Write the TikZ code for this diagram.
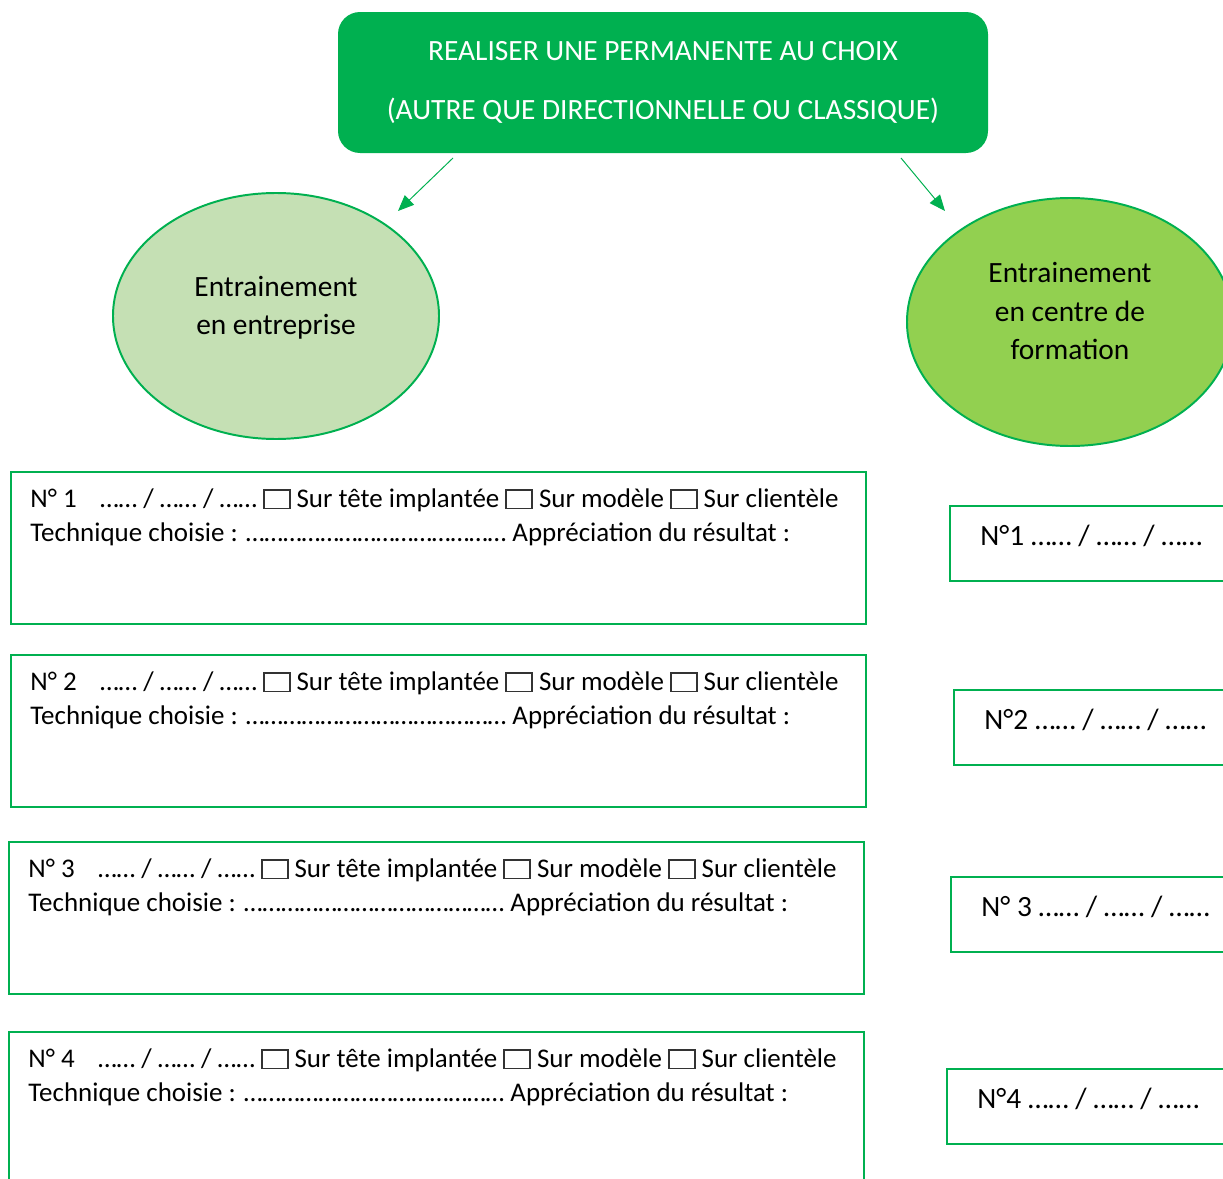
\documentclass[tikz,border=0pt]{standalone}
\usepackage{fontspec}
\setmainfont{Carlito}
\usetikzlibrary{shapes.geometric,arrows.meta,positioning,calc}
\definecolor{vertoffice}{HTML}{00B050}
\definecolor{vertpale}{HTML}{C5E0B4}
\definecolor{vertclair}{HTML}{92D050}
\newcommand{\caseacocher}{{\setlength{\fboxsep}{0pt}\setlength{\fboxrule}{0.6pt}\color{black!80}\fbox{\rule{0pt}{6.8pt}\hspace{10pt}}}}

\begin{document}
\begin{tikzpicture}[
x=0.408pt,y=-0.408pt,
titre/.style={
  fill=vertoffice,
  rounded corners=9pt,
  text=white,
  align=center,
  minimum width=650*0.408pt,
  minimum height=141*0.408pt,
  font=\fontsize{12}{14.6}\selectfont
},
bulle/.style={
  ellipse,
  draw=vertoffice,
  line width=0.8pt,
  inner sep=0pt,
  minimum width=326*0.408pt,
  minimum height=246*0.408pt
},
texte/.style={
  align=center,
  inner sep=0pt,
  font=\fontsize{12}{15.7}\selectfont
},
seance/.style={
  draw=vertoffice,
  line width=0.8pt,
  minimum width=855*0.408pt,
  minimum height=152*0.408pt
},
resultat/.style={
  draw=vertoffice,
  line width=0.8pt,
  minimum width=300*0.408pt,
  minimum height=75*0.408pt
},
ligne/.style={
  inner sep=0pt,
  font=\fontsize{11}{13.4}\selectfont
},
fleche/.style={
  draw=vertoffice,
  line width=0.4pt,
  -{Triangle[length=6.5pt,width=5.4pt]}
}
]
\path[use as bounding box,clip] (0,0) rectangle (1223,1179);

% titre
\node[titre] (titre) at (663,82.5)
  {REALISER UNE PERMANENTE AU CHOIX\\[9.4pt](AUTRE QUE DIRECTIONNELLE OU CLASSIQUE)};

% les deux lieux
\node[bulle,fill=vertpale] (entreprise) at (276,316) {};
\node[texte] (entreprise-txt) at ($(entreprise.center)+(0,-8)$)
  {Entrainement\\en entreprise};
\node[bulle,fill=vertclair,minimum height=248*0.408pt] (centre) at (1070,322) {};
\node[texte] (centre-txt) at ($(centre.center)+(0,-11)$)
  {Entrainement\\en centre de\\formation};

\coordinate (depart-g) at (453,158);
\coordinate (arrivee-g) at (398,211);
\coordinate (depart-d) at (901,158);
\coordinate (arrivee-d) at (945,211);
\draw[fleche] (depart-g) -- (arrivee-g);
\draw[fleche] (depart-d) -- (arrivee-d);

% seances en entreprise
\foreach \n/\x/\y in {1/10/471, 2/10/654, 3/8/841, 4/8/1031} {
  \node[seance,anchor=north west] (s\n) at (\x,\y) {};
  \node[ligne,anchor=base west] (s\n-date) at ($(s\n.north west)+(20,36.5)$)
    {N° \n\hspace{9.5pt}…… / …… / …… \caseacocher{} Sur tête implantée \caseacocher{} Sur modèle \caseacocher{} Sur clientèle};
  \node[ligne,anchor=base west] (s\n-tech) at ($(s\n-date.base west)+(0,34)$)
    {Technique choisie : {……}{……}{……}{……}{……}{……}{……} Appréciation du résultat :};
}

% seances en centre de formation
\foreach \n/\lab/\x/\y in {1/N°1/949/505, 2/N°2/953/689, 3/N° 3/950/876, 4/N°4/946/1068} {
  \node[resultat,anchor=north west] (r\n) at (\x,\y) {};
  \node[ligne,anchor=base west,font=\fontsize{12}{14.6}\selectfont] (r\n-txt) at ($(r\n.west)+(31,2)$)
    {\lab{} …… / …… / ……};
}
\end{tikzpicture}
\end{document}
